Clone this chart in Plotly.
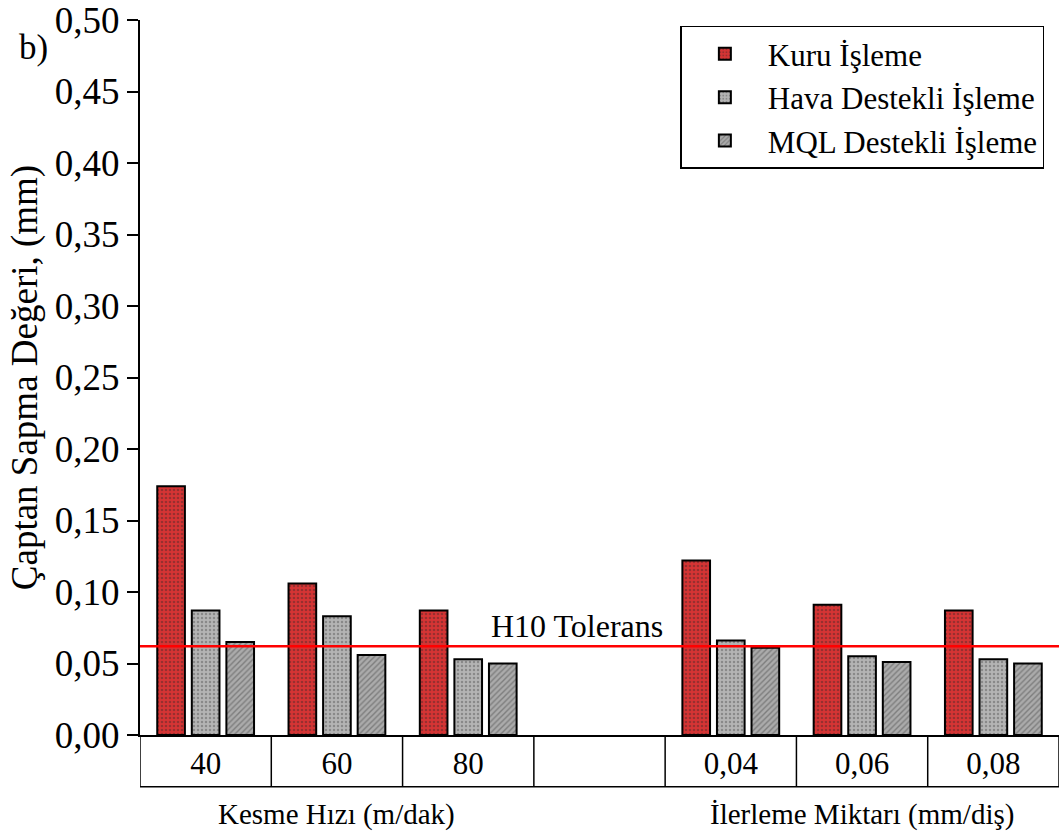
import plotly.graph_objects as go

categories = ["40", "60", "80", " ", "0,04", "0,06", "0,08"]
kuru = [0.174, 0.106, 0.087, None, 0.122, 0.091, 0.087]
hava = [0.087, 0.083, 0.053, None, 0.066, 0.055, 0.053]
mql = [0.065, 0.056, 0.050, None, 0.061, 0.051, 0.050]
series_names = ["Kuru İşleme", "Hava Destekli İşleme", "MQL Destekli İşleme"]
tolerance = 0.062
group_labels = ["Kesme Hızı (m/dak)", "İlerleme Miktarı (mm/diş)"]
group_centers = ["60", "0,06"]
y_ticks = [0.00, 0.05, 0.10, 0.15, 0.20, 0.25, 0.30, 0.35, 0.40, 0.45, 0.50]
y_ticktext = ["0,00", "0,05", "0,10", "0,15", "0,20", "0,25", "0,30", "0,35", "0,40", "0,45", "0,50"]

FONT = "Liberation Serif"

fig = go.Figure()
styles = [
    dict(color="#c03a3a", pattern=dict(shape=".", fgcolor="#5a2a2a", bgcolor="#d63434", size=4, solidity=0.35)),
    dict(color="#a0a0a0", pattern=dict(shape=".", fgcolor="#5e5e5e", bgcolor="#b4b4b4", size=4, solidity=0.3)),
    dict(color="#969696", pattern=dict(shape="/", fgcolor="#505050", bgcolor="#ababab", size=4, solidity=0.35)),
]
for name, vals, st in zip(series_names, [kuru, hava, mql], styles):
    fig.add_trace(go.Bar(
        x=categories, y=vals, name=name,
        marker=dict(color=st["color"], pattern=st["pattern"],
                    line=dict(color="black", width=2)),
    ))

# tolerance line
fig.add_shape(type="line", xref="paper", x0=0, x1=1, yref="y", y0=tolerance, y1=tolerance,
              line=dict(color="#ff0000", width=2.5))
fig.add_annotation(xref="paper", x=0.4755, xanchor="center", yref="y", y=tolerance, yanchor="bottom",
                   text="H10 Tolerans", showarrow=False, font=dict(family=FONT, size=32, color="black"))

# table cells below axis
cell_h = -0.0724
for i in range(len(categories) + 1):
    fig.add_shape(type="line", xref="x", x0=i - 0.5, x1=i - 0.5, yref="paper", y0=0, y1=cell_h,
                  line=dict(color="black", width=1.5))
fig.add_shape(type="line", xref="x", x0=-0.5, x1=len(categories) - 0.5, yref="paper", y0=cell_h, y1=cell_h,
              line=dict(color="black", width=1.5))

for lab, c in zip(group_labels, group_centers):
    fig.add_annotation(xref="x", x=categories.index(c), xanchor="center", yref="paper", y=-0.111,
                       yanchor="middle", text=lab, showarrow=False,
                       font=dict(family=FONT, size=29, color="black"))

fig.add_annotation(xref="paper", x=-0.1155, xanchor="center", yref="paper", y=0.962, yanchor="middle",
                   text="b)", showarrow=False, font=dict(family=FONT, size=35, color="black"))

fig.update_layout(
    width=1059, height=838,
    margin=dict(l=140, r=0, t=17, b=103),
    paper_bgcolor="white", plot_bgcolor="white",
    barmode="group", bargap=0.21, bargroupgap=0.2,
    font=dict(family=FONT, color="black"),
    showlegend=True,
    legend=dict(x=0.588, y=0.992, xanchor="left", yanchor="top",
                bgcolor="white", bordercolor="black", borderwidth=1.5,
                font=dict(family=FONT, size=31, color="black"), itemwidth=76,
                tracegroupgap=0),
)
fig.update_xaxes(type="category", categoryorder="array", categoryarray=categories,
                 range=[-0.5, len(categories) - 0.5],
                 showline=True, linecolor="black", linewidth=2, ticks="",
                 showgrid=False, zeroline=False, ticklabelstandoff=0,
                 tickfont=dict(family=FONT, size=31, color="black"))
fig.update_yaxes(range=[0, 0.5], tickmode="array", tickvals=y_ticks, ticktext=y_ticktext,
                 ticklabeloverflow="allow",
                 showline=True, linecolor="black", linewidth=2,
                 ticks="outside", ticklen=11, tickwidth=2, tickcolor="black",
                 showgrid=False, zeroline=False,
                 tickfont=dict(family=FONT, size=37, color="black"),
                 title=dict(text="Çaptan Sapma Değeri, (mm)", font=dict(family=FONT, size=37, color="black"),
                            standoff=6))

fig.write_html("out.html")
